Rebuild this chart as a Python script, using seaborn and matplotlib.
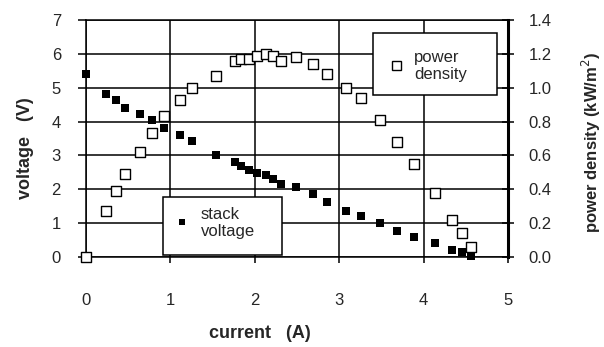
import matplotlib
matplotlib.use("Agg")
import matplotlib.pyplot as plt
import seaborn as sns
import pandas as pd
from matplotlib.patches import Rectangle

current = [0.0, 0.24, 0.35, 0.46, 0.64, 0.78, 0.93, 1.11, 1.25, 1.54, 1.76, 1.84, 1.93,
           2.03, 2.13, 2.22, 2.31, 2.49, 2.69, 2.86, 3.08, 3.26, 3.48, 3.69, 3.89, 4.13,
           4.34, 4.46, 4.56]
stack_voltage = [5.40, 4.80, 4.64, 4.41, 4.22, 4.05, 3.82, 3.60, 3.43, 3.01, 2.80, 2.70, 2.56,
                 2.48, 2.43, 2.29, 2.17, 2.08, 1.85, 1.63, 1.36, 1.22, 1.01, 0.78, 0.59, 0.42,
                 0.21, 0.15, 0.03]
power_density = [0.00, 0.27, 0.39, 0.49, 0.62, 0.73, 0.83, 0.93, 1.00, 1.07, 1.16, 1.17, 1.17,
                 1.19, 1.20, 1.19, 1.16, 1.18, 1.14, 1.08, 1.00, 0.94, 0.81, 0.68, 0.55, 0.38,
                 0.22, 0.14, 0.06]
x_ticks = [0, 1, 2, 3, 4, 5]
v_ticks = [0, 1, 2, 3, 4, 5, 6, 7]
p_ticks = [0.0, 0.2, 0.4, 0.6, 0.8, 1.0, 1.2, 1.4]

df = pd.DataFrame({"current": current, "voltage": stack_voltage, "power": power_density})

sns.set_theme(style="white")
plt.rcParams['font.family'] = ['Liberation Sans', 'DejaVu Sans']

fig = plt.figure(figsize=(6.04, 3.47), dpi=100)
ax = fig.add_axes([86/604, 1-257/347, (508-86)/604, (257-20)/347])
ax2 = ax.twinx()

sns.scatterplot(data=df, x="current", y="voltage", ax=ax, marker="s", s=30,
                color="black", edgecolor="black", linewidth=0, zorder=5, clip_on=False, legend=False)
sns.scatterplot(data=df, x="current", y="power", ax=ax2, marker="s", s=60,
                facecolor="white", edgecolor="black", linewidth=1.0, zorder=5, clip_on=False, legend=False)

ax.set_xlim(0, 5)
ax.set_ylim(0, 7)
ax2.set_ylim(0, 1.4)
ax.set_xticks(x_ticks)
ax.set_yticks(v_ticks)
ax2.set_yticks(p_ticks)
ax.set_xticklabels([str(t) for t in x_ticks], fontsize=12)
ax.set_yticklabels([str(t) for t in v_ticks], fontsize=12)
ax2.set_yticklabels([f"{t:.1f}" for t in p_ticks], fontsize=12)

ax.grid(True, color="black", linewidth=1.1)
ax.set_axisbelow(True)
for side in ["left", "bottom", "top"]:
    ax.spines[side].set_visible(True)
    ax.spines[side].set_color("black")
    ax.spines[side].set_linewidth(1.1)
ax.spines["right"].set_visible(False)
for side in ["left", "bottom", "top"]:
    ax2.spines[side].set_visible(False)
ax2.spines["right"].set_color("black")
ax2.spines["right"].set_linewidth(2.2)

ax.tick_params(axis="x", direction="out", length=4, width=1.1, color="black", pad=22, bottom=True)
ax.tick_params(axis="y", direction="out", length=6, width=1.1, color="black", pad=12, left=True)
ax2.tick_params(axis="y", direction="inout", length=8, width=1.1, color="black", pad=11, right=True)

ax.set_xlabel("")
ax.set_ylabel("")
ax2.set_ylabel("")
fig.text(260/604, 1-334/347, "current   (A)", ha="center", va="center", fontsize=13, fontweight="bold")
fig.text(25/604, 1-148/347, "voltage   (V)", ha="center", va="center", fontsize=13,
         fontweight="bold", rotation=90)
fig.text(591/604, 1-142/347, "power density (kW/m$^2$)", ha="center", va="center", fontsize=12,
         fontweight="bold", rotation=90)

# legend boxes
def box(x0, y0, x1, y1):
    r = Rectangle((x0/604, 1-y1/347), (x1-x0)/604, (y1-y0)/347, transform=fig.transFigure,
                  facecolor="white", edgecolor="black", linewidth=1.1, zorder=10)
    fig.add_artist(r)

box(373, 33, 497, 95)
fig.add_artist(Rectangle((392/604, 1-70/347), 9/604, 9/347, transform=fig.transFigure,
                         facecolor="white", edgecolor="black", linewidth=1.0, zorder=11))
fig.text(414/604, 1-66/347, "power\ndensity", ha="left", va="center", fontsize=12,
         linespacing=1.15, zorder=12)

box(163, 197, 282, 255)
fig.add_artist(Rectangle((179/604, 1-225/347), 6/604, 6/347, transform=fig.transFigure,
                         facecolor="black", edgecolor="black", linewidth=0, zorder=11))
fig.text(201/604, 1-223/347, "stack\nvoltage", ha="left", va="center", fontsize=12,
         linespacing=1.15, zorder=12)

fig.savefig("out.png", dpi=100)
